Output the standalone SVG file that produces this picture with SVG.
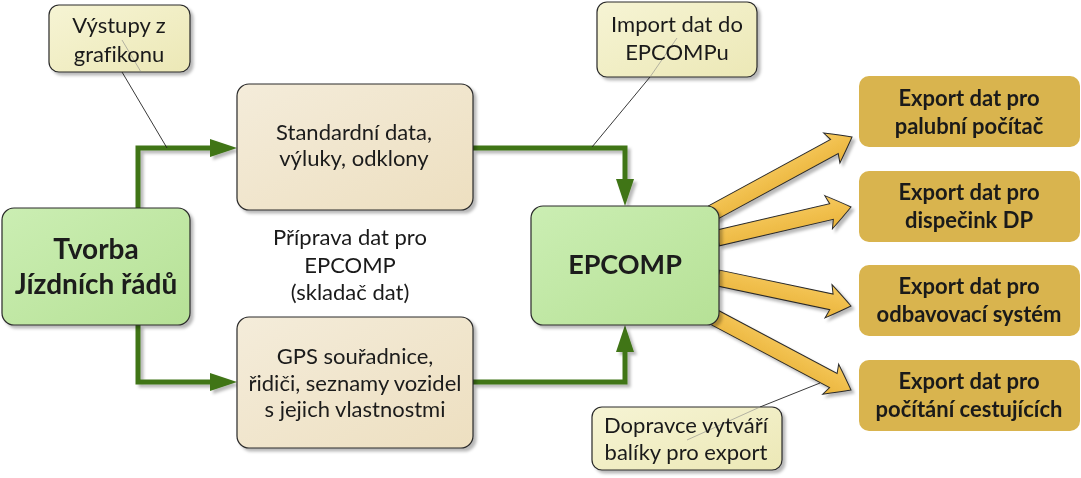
<svg xmlns="http://www.w3.org/2000/svg" width="1081" height="478" viewBox="0 0 1081 478">
<defs>
<style>
.t{font-family:Lato,"Liberation Sans",sans-serif;fill:#1a1a1a;text-anchor:middle;font-variant-ligatures:none}
.n{font-size:22px}
.b{font-weight:bold}
.call{fill:url(#gCall);stroke:#2a2a2a;stroke-width:1.2}
.conn{fill:none;stroke:#3f7417;stroke-width:5;stroke-linejoin:miter}
.exa{fill:url(#gArr);stroke:#2a2a2a;stroke-width:1}
.exb{fill:#d9b44e}
.pl{stroke:#222;stroke-width:0.9}
</style>
<linearGradient id="gCall" x1="0" y1="0" x2="1" y2="1"><stop offset="0" stop-color="#f6f4d4"/><stop offset="1" stop-color="#ece8b6"/></linearGradient>
<linearGradient id="gGreen" x1="0" y1="0" x2="1" y2="1"><stop offset="0" stop-color="#cbeeb3"/><stop offset="1" stop-color="#b6e196"/></linearGradient>
<linearGradient id="gBeige" x1="0" y1="0" x2="1" y2="1"><stop offset="0" stop-color="#f4ecda"/><stop offset="1" stop-color="#eddfc0"/></linearGradient>
<linearGradient id="gArr" x1="0" y1="0" x2="0" y2="1"><stop offset="0" stop-color="#f6c95e"/><stop offset="1" stop-color="#eab43a"/></linearGradient>
<filter id="sh" x="-10%" y="-10%" width="130%" height="130%"><feDropShadow dx="3" dy="3" stdDeviation="1.5" flood-color="#000" flood-opacity="0.28"/></filter>
<marker id="ah" markerUnits="userSpaceOnUse" markerWidth="27" markerHeight="18" refX="0" refY="9" orient="auto"><path d="M0,0 L27,9 L0,18 Z" fill="#3f7417"/></marker>
</defs>

<g id="connectors" filter="url(#sh)">
<path class="conn" d="M138,208 L138,148 L210,148" marker-end="url(#ah)"/>
<path class="conn" d="M138,325 L138,382 L210,382" marker-end="url(#ah)"/>
<path class="conn" d="M473,148 L625,148 L625,179" marker-end="url(#ah)"/>
<path class="conn" d="M473,382 L625,382 L625,352" marker-end="url(#ah)"/>
<g id="export-arrows">
<path class="exa" d="M-159,-8 L-20,-8 L-23,-17 Q-9,-7 0,0 Q-9,7 -23,17 L-20,8 L-159,8 Z" transform="translate(852,137) rotate(-28.5)"/>
<path class="exa" d="M-137,-8 L-20,-8 L-23,-17 Q-9,-7 0,0 Q-9,7 -23,17 L-20,8 L-137,8 Z" transform="translate(851,207) rotate(-13.1)"/>
<path class="exa" d="M-136,-8 L-20,-8 L-23,-17 Q-9,-7 0,0 Q-9,7 -23,17 L-20,8 L-136,8 Z" transform="translate(851,306) rotate(11.9)"/>
<path class="exa" d="M-158,-8 L-20,-8 L-23,-17 Q-9,-7 0,0 Q-9,7 -23,17 L-20,8 L-158,8 Z" transform="translate(851,390) rotate(28)"/>
</g>
</g>

<g id="tvorba" filter="url(#sh)">
<rect x="2" y="208" width="188" height="117" rx="12" fill="url(#gGreen)" stroke="#2a2a2a" stroke-width="1.2"/>
<text class="t b" font-size="28" x="96" y="259">Tvorba</text>
<text class="t b" font-size="28" x="96" y="294">Jízdních řádů</text>
</g>

<g id="standardni" filter="url(#sh)">
<rect x="237" y="84" width="236" height="126" rx="12" fill="url(#gBeige)" stroke="#2a2a2a" stroke-width="1.2"/>
<text class="t n" x="354" y="140">Standardní data,</text>
<text class="t n" x="354" y="166">výluky, odklony</text>
</g>

<g id="gps" filter="url(#sh)">
<rect x="237" y="317" width="236" height="131" rx="12" fill="url(#gBeige)" stroke="#2a2a2a" stroke-width="1.2"/>
<text class="t n" x="355" y="364">GPS souřadnice,</text>
<text class="t n" x="355" y="391">řidiči, seznamy vozidel</text>
<text class="t n" x="355" y="417">s jejich vlastnostmi</text>
</g>

<g id="priprava">
<text class="t n" x="350" y="245">Příprava dat pro</text>
<text class="t n" x="350" y="273">EPCOMP</text>
<text class="t n" x="350" y="300">(skladač dat)</text>
</g>

<g id="epcomp" filter="url(#sh)">
<rect x="531" y="206" width="188" height="119" rx="12" fill="url(#gGreen)" stroke="#2a2a2a" stroke-width="1.2"/>
<text class="t b" font-size="27" x="625" y="274">EPCOMP</text>
</g>

<g id="export1">
<rect class="exb" x="859" y="76" width="221" height="71" rx="10"/>
<text class="t b" font-size="22" x="969" y="106">Export dat pro</text>
<text class="t b" font-size="22" x="969" y="134">palubní počítač</text>
</g>
<g id="export2">
<rect class="exb" x="859" y="171" width="221" height="71" rx="10"/>
<text class="t b" font-size="22" x="969" y="200">Export dat pro</text>
<text class="t b" font-size="22" x="969" y="228">dispečink DP</text>
</g>
<g id="export3">
<rect class="exb" x="859" y="265" width="221" height="71" rx="10"/>
<text class="t b" font-size="22" x="969" y="294">Export dat pro</text>
<text class="t b" font-size="22" x="969" y="322">odbavovací systém</text>
</g>
<g id="export4">
<rect class="exb" x="859" y="360" width="221" height="71" rx="10"/>
<text class="t b" font-size="22" x="969" y="389">Export dat pro</text>
<text class="t b" font-size="22" x="969" y="417">počítání cestujících</text>
</g>

<g id="callout-vystupy">
<line class="pl" x1="122" y1="72" x2="167" y2="148"/>
<rect class="call" x="49" y="5" width="141" height="67" rx="10" filter="url(#sh)"/>
<line x1="122" y1="40" x2="141" y2="72" stroke="#888" stroke-width="0.6"/>
<text class="t n" x="119" y="33">Výstupy z</text>
<text class="t n" x="119" y="62">grafikonu</text>
</g>

<g id="callout-import">
<line class="pl" x1="650" y1="77" x2="592" y2="147"/>
<rect class="call" x="597" y="2" width="160" height="75" rx="10" filter="url(#sh)"/>
<line x1="677" y1="38" x2="650" y2="77" stroke="#888" stroke-width="0.6"/>
<text class="t n" x="677" y="32">Import dat do</text>
<text class="t n" x="677" y="60">EPCOMPu</text>
</g>

<g id="callout-dopravce">
<line class="pl" x1="820" y1="383" x2="760" y2="407"/>
<rect class="call" x="592" y="407" width="190" height="63" rx="10" filter="url(#sh)"/>
<line x1="760" y1="407" x2="687" y2="440" stroke="#888" stroke-width="0.6"/>
<text class="t n" x="686" y="433">Dopravce vytváří</text>
<text class="t n" x="686" y="460">balíky pro export</text>
</g>
</svg>
